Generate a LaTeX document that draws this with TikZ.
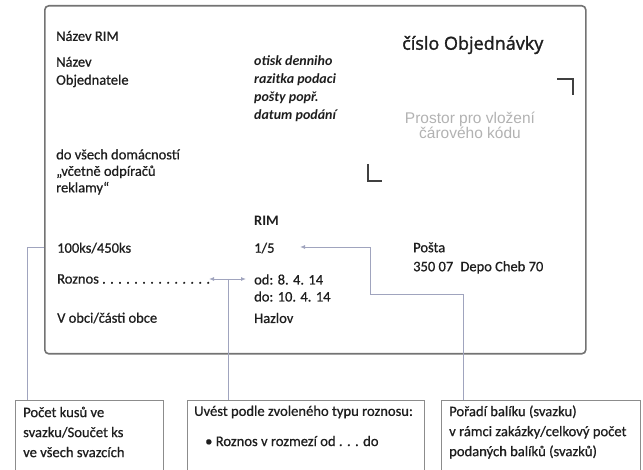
\documentclass[tikz,border=0pt]{standalone}
\usepackage{fontspec}
\setmainfont{Carlito}
\newfontfamily\heavy{Carlito}[FakeBold=0.7]
\newfontfamily\osans{Open Sans}[FakeBold=1.5]
\newfontfamily\lsans{Liberation Sans}
\usetikzlibrary{arrows.meta}
\definecolor{linkc}{RGB}{160,164,190}
\definecolor{txtc}{RGB}{30,30,30}
\tikzset{
  txt/.style={anchor=west, inner sep=0pt, text=txtc, align=left,
              font=\heavy\fontsize{14.5}{18}\selectfont},
  smalltxt/.style={anchor=west, inner sep=0pt, text=txtc, align=left,
              font=\heavy\fontsize{14.6}{20}\selectfont},
  conn/.style={draw=linkc, line width=0.9pt},
  tip/.style={-{Latex[length=5pt,width=4pt]}},
  bbox/.style={draw=black!45, line width=1.2pt, anchor=north west, inner sep=0pt},
  cornermark/.style={draw=black!75, line width=1.6pt}
}
\begin{document}
\begin{tikzpicture}[x=1pt,y=-1pt]
\useasboundingbox (0,0) rectangle (643,470);
% main card
\node[draw=black!55, line width=1.6pt, rounded corners=4pt, anchor=north west,
      minimum width=541pt, minimum height=348pt, inner sep=0pt] (main) at (44,5) {};
% texts in card
\node[txt] (nrim) at (56,36) {Název RIM};
\node[txt] (nobj) at (56,72) {Název\\Objednatele};
\node[txt, font=\bfseries\itshape\fontsize{14}{18}\selectfont] (otisk) at (254,89)
  {otisk denniho\\razitka podaci\\pošty popř.\\datum podání};
\node[anchor=west, inner sep=0pt, text=txtc, font=\osans\fontsize{18}{22}\selectfont] (cislo) at (402,45) {číslo Objednávky};
\node[anchor=center, inner sep=0pt, text=black!30, align=center,
      font=\lsans\fontsize{15.5}{15}\selectfont] (prostor) at (470,125) {Prostor pro vložení\\čárového kódu};
\draw[cornermark] (557,79) -- (573,79) -- (573,95);
\draw[cornermark] (368,164) -- (368,181) -- (382,181);
\node[txt, font=\heavy\fontsize{14.5}{16.5}\selectfont] (dovsech) at (56,172)
  {do všech domácností\\„včetně odpíračů\\reklamy“};
\node[txt, font=\bfseries\fontsize{14.5}{18}\selectfont] (rim) at (254,221) {RIM};
\node[txt] (ks) at (57,248) {100ks/450ks};
\node[txt] (r15) at (254,248) {1/5};
\node[txt] (roznos) at (57,279) {Roznos . . . . . . . . . . . . . .};
\node[txt, font=\heavy\fontsize{14.5}{17}\selectfont] (oddo) at (254,288) {od: 8. 4. 14\\do: 10. 4. 14};
\node[txt] (hazlov) at (254,318) {Hazlov};
\node[txt] (vobci) at (57,318) {V obci/části obce};
\node[txt, font=\heavy\fontsize{14.5}{19}\selectfont] (posta) at (413,258) {Pošta\\350 07\enspace Depo Cheb 70};
% bottom boxes
\node[bbox, minimum width=148pt, minimum height=76pt] (b1) at (15,400) {};
\node[bbox, minimum width=237pt, minimum height=76pt] (b2) at (187,400) {};
\node[bbox, minimum width=199pt, minimum height=76pt] (b3) at (441,400) {};
\node[smalltxt] (t1) at (23,432) {Počet kusů ve\\svazku/Součet ks\\ve všech svazcích};
\node[smalltxt] (t2a) at (194,412) {Uvést podle zvoleného typu roznosu:};
\node[smalltxt] (t2b) at (205,441) {\textbullet\ Roznos v rozmezí od . . . do};
\node[smalltxt] (t3) at (449,432) {Pořadí balíku (svazku)\\v rámci zakázky/celkový počet\\podaných balíků (svazků)};
% connectors
\coordinate (lc) at (27,247);
\draw[conn] (main.west |- lc) -- (lc) -- (lc |- b1.north);
\coordinate (mj) at (228,279);
\coordinate (ml) at (209,279);
\coordinate (mr) at (246,279);
\draw[conn, tip] (mj) -- (ml);
\draw[conn, tip] (mj) -- (mr);
\draw[conn] (mj) -- (mj |- b2.north);
\coordinate (ra) at (300,247);
\coordinate (rk1) at (370,294);
\coordinate (rx) at (463,0);
\draw[conn, {Latex[length=5pt,width=4pt]}-] (ra) -| (rk1) -- (rx |- rk1) -- (rx |- b3.north);
\end{tikzpicture}
\end{document}
